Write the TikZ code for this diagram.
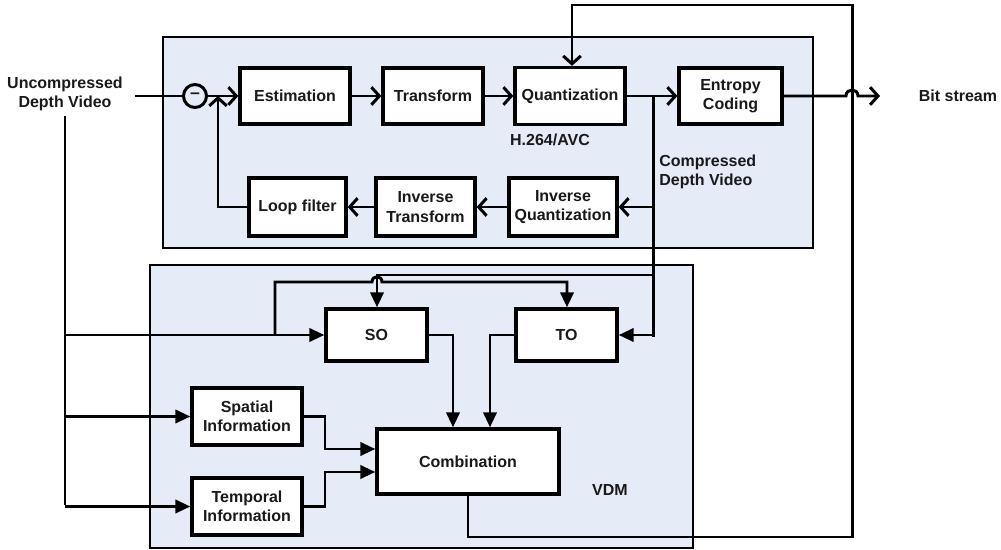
\documentclass[tikz,border=0pt]{standalone}
\usepackage{fontspec}
\setmainfont{Liberation Sans}
\usetikzlibrary{arrows.meta,calc}
\definecolor{panel}{RGB}{229,235,247}
\definecolor{ink}{RGB}{25,25,25}
\begin{document}
\begin{tikzpicture}[x=0.02cm,y=-0.02cm,
  font=\fontsize{9.1}{11}\selectfont\bfseries,
  every node/.style={text=ink},
  blk/.style={draw=black, fill=white, line width=1.9pt, align=center, inner sep=0pt},
  panelbox/.style={draw=black, fill=panel, line width=1.6pt},
  wire/.style={line width=1.7pt, draw=black},
  oarr/.style={wire, -{Straight Barb[length=4.5pt,width=10pt]}},
  farr/.style={wire, -{Triangle[length=8.5pt,width=7.5pt]}},
  lbl/.style={align=center, inner sep=0pt},
]
\useasboundingbox (0,0) rectangle (1001,550);
% panels
\draw[panelbox] (163,37) rectangle (813,248);
\draw[panelbox] (150,265) rectangle (693,548);

% blocks
\node[blk, minimum width=2.2cm, minimum height=1.12cm] (est) at (295,96) {Estimation};
\node[blk, minimum width=2.0cm, minimum height=1.12cm] (tra) at (433,96) {Transform};
\node[blk, minimum width=2.2cm, minimum height=1.14cm] (qua) at (570,96) {Quantization};
\node[blk, minimum width=2.06cm, minimum height=1.12cm] (ent) at (730.5,96) {Entropy\\Coding};
\node[blk, minimum width=2.16cm, minimum height=1.16cm] (iq) at (563,207) {Inverse\\Quantization};
\node[blk, minimum width=1.98cm, minimum height=1.16cm] (it) at (425.5,207) {Inverse\\Transform};
\node[blk, minimum width=1.94cm, minimum height=1.16cm] (lf) at (297.5,207) {Loop filter};
\node[blk, minimum width=2.02cm, minimum height=1.04cm] (so) at (376.5,335) {SO};
\node[blk, minimum width=2.02cm, minimum height=1.04cm] (to) at (566.5,335) {TO};
\node[blk, minimum width=2.2cm, minimum height=1.14cm] (sp) at (247,416.5) {Spatial\\Information};
\node[blk, minimum width=2.2cm, minimum height=1.14cm] (te) at (247,506.5) {Temporal\\Information};
\node[blk, minimum width=3.64cm, minimum height=1.3cm] (co) at (468,461.5) {Combination};
\node[draw=black, circle, line width=1.7pt, minimum size=0.46cm, inner sep=0pt, font=\fontsize{10}{10}\selectfont\bfseries] (sub) at (195,96) {\raisebox{0.3pt}{--}};

% labels
\node[lbl] (in) at (65,94) {Uncompressed\\Depth Video};
\node[lbl] (bs) at (958,96) {Bit stream};
\node[lbl] (h264) at (550,140) {H.264/AVC};
\node[lbl, align=left, anchor=west] (cdv) at (659,172) {Compressed\\Depth Video};
\node[lbl] (vdm) at (610,490) {VDM};

% coordinates
\coordinate (inR) at (135,96);
\coordinate (out) at (880,96);
\coordinate (inTop) at (65,116);
\coordinate (cTap) at (653,96);

% upper chain
\draw[wire] (inR) -- (sub.west);
\draw[oarr] (sub.east) -- (est.west);
\draw[oarr] (est) -- (tra);
\draw[oarr] (tra) -- (qua);
\draw[oarr] (qua) -- (ent);
\draw[oarr] (ent.east) -- (846,96) .. controls (846,88) and (858,88) .. (858,96) -- (out);
\draw[oarr] (iq) -- (it);
\draw[oarr] (it) -- (lf);
\draw[oarr] (lf.west) -- (218,207) -- (218,96);

% compressed depth video tap
\draw[wire] (cTap) -- (653,337);
\draw[oarr] (653,207) -- (iq.east);
\draw[farr] (653,0 |- to.east) -- (to.east);
\draw[farr] (653,275) -- (377,275) -- (377,0 |- so.north);

% feedback
\draw[oarr] (co.south) -- (468,537) -- (852,537) -- (852,5) -- (572,5) -- (572,0 |- qua.north);

% input distribution
\draw[wire] (inTop) -- (65,505);
\draw[farr] (65,0 |- so.west) -- (so.west);
\draw[farr] (65,0 |- sp.west) -- (sp.west);
\draw[farr] (65,0 |- te.west) -- (te.west);
\draw[farr] (275,0 |- so.west) -- (275,282) -- (372,282) .. controls (372,275) and (382,275) .. (382,282) -- (567,282) -- (567,0 |- to.north);

% into combination
\draw[farr] (so.east) -| (453,0 |- co.north);
\draw[farr] (to.west) -| (490,0 |- co.north);
\draw[farr] (sp.east) -| (325,449) -- (0,449 -| co.west);
\draw[farr] (te.east) -| (325,472) -- (0,472 -| co.west);
\end{tikzpicture}
\end{document}
